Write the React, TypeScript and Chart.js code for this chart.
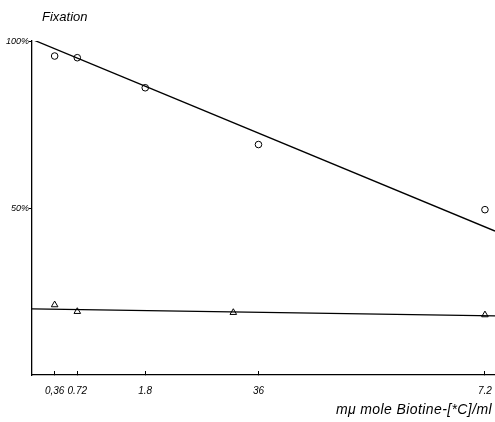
import React, { useEffect, useRef } from "react";
import { Chart, registerables } from "chart.js";

Chart.register(...registerables);

// Data
const xTickValues = [0.36, 0.72, 1.8, 3.6, 7.2];
const xTickLabels = ["0,36", "0.72", "1.8", "36", "7.2"];
const yTickValues = [50, 100];
const yTickLabels = ["50%", "100%"];

const circleX = [0.36, 0.72, 1.8, 3.6, 7.2];
const circleY = [95.5, 95, 86, 69, 49.5];

const triangleX = [0.36, 0.72, 3.2, 7.2];
const triangleY = [21, 19, 18.7, 18];

const fitX = [0, 7.36];
const fitCircleY = [100.5, 43.1];
const fitTriangleY = [19.8, 17.7];

const yTitle = "Fixation";
const xTitle = "mμ mole Biotine-[*C]/ml";

const FONT = "'Liberation Sans', Arial, sans-serif";

const titlesPlugin = {
  id: "handTitles",
  afterDraw(chart: any) {
    const { ctx, chartArea } = chart;
    ctx.save();
    ctx.fillStyle = "#000";
    ctx.font = `italic 13px ${FONT}`;
    ctx.textAlign = "left";
    ctx.textBaseline = "middle";
    ctx.fillText(yTitle, chartArea.left + 10, 17);
    ctx.font = `italic 14px ${FONT}`;
    try {
      (ctx as any).letterSpacing = "0.4px";
    } catch (e) {}
    ctx.textAlign = "right";
    ctx.fillText(xTitle, chartArea.right - 3, 410);
    ctx.restore();
  },
};

export default function App() {
  const ref = useRef<HTMLCanvasElement | null>(null);

  useEffect(() => {
    if (!ref.current) return;
    const pts = (xs: number[], ys: number[]) => xs.map((x, i) => ({ x, y: ys[i] }));
    const chart = new Chart(ref.current, {
      type: "scatter",
      data: {
        datasets: [
          {
            label: "fit circles",
            data: pts(fitX, fitCircleY),
            showLine: true,
            borderColor: "#000",
            borderWidth: 1.3,
            pointRadius: 0,
          },
          {
            label: "fit triangles",
            data: pts(fitX, fitTriangleY),
            showLine: true,
            borderColor: "#000",
            borderWidth: 1.3,
            pointRadius: 0,
          },
          {
            label: "circles",
            data: pts(circleX, circleY),
            pointStyle: "circle",
            pointRadius: 3.3,
            borderColor: "#000",
            borderWidth: 1,
            backgroundColor: "#fff",
          },
          {
            label: "triangles",
            data: pts(triangleX, triangleY),
            pointStyle: "triangle",
            pointRadius: 3.8,
            borderColor: "#000",
            borderWidth: 1,
            backgroundColor: "#fff",
          },
        ],
      },
      options: {
        animation: false,
        responsive: false,
        layout: { autoPadding: false, padding: { top: 41, right: 0, left: 0, bottom: 0 } },
        plugins: {
          legend: { display: false },
          tooltip: { enabled: false },
          title: { display: false },
        },
        scales: {
          x: {
            type: "linear",
            min: fitX[0],
            max: fitX[1],
            afterBuildTicks: (scale: any) => {
              scale.ticks = xTickValues.map((v) => ({ value: v }));
            },
            afterFit: (scale: any) => {
              scale.height = 47;
              scale.paddingLeft = 0;
              scale.paddingRight = 0;
            },
            border: { display: true, color: "#000", width: 1.3 },
            grid: {
              display: true,
              drawOnChartArea: false,
              drawTicks: true,
              tickLength: -4,
              color: "#000",
            },
            ticks: {
              color: "#000",
              padding: 14,
              maxRotation: 0,
              autoSkip: false,
              font: { family: FONT, size: 10, style: "italic" },
              callback: (_v: any, i: number) => xTickLabels[i],
            },
          },
          y: {
            type: "linear",
            min: 0,
            max: 100,
            afterBuildTicks: (scale: any) => {
              scale.ticks = yTickValues.map((v) => ({ value: v }));
            },
            afterFit: (scale: any) => {
              scale.width = 32;
            },
            border: { display: true, color: "#000", width: 1.3 },
            grid: {
              display: true,
              drawOnChartArea: false,
              drawTicks: true,
              tickLength: 3,
              color: "#000",
            },
            ticks: {
              color: "#000",
              padding: 0,
              autoSkip: false,
              font: { family: FONT, size: 9, style: "italic" },
              callback: (_v: any, i: number) => yTickLabels[i],
            },
          },
        },
      },
      plugins: [titlesPlugin],
    });
    return () => chart.destroy();
  }, []);

  return (
    <div style={{ position: "absolute", left: 0, top: 0, width: 495, height: 422, background: "#fff" }}>
      <canvas ref={ref} width={495} height={422} />
    </div>
  );
}
